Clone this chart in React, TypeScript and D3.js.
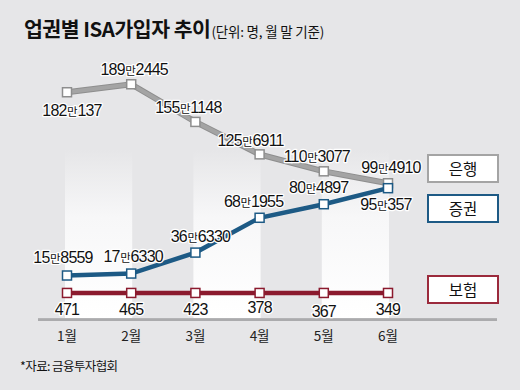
import React from "react";
import * as d3 from "d3";

const months = ["1월", "2월", "3월", "4월", "5월", "6월"];
const bank = [1820137, 1892445, 1551148, 1256911, 1103077, 994910];
const securities = [158559, 176330, 366330, 681955, 804897, 950357];
const insurance = [471, 465, 423, 378, 367, 349];
const legendNames = ["은행", "증권", "보험"];

// label placement offsets (layout, not data)
const bankOff = [[5, 24], [3, -9], [-7, -9], [-9, -8], [-7, -9], [3, -10]];
const secOff = [[-4, -13], [2, -12], [5, -11], [-6, -11], [-5, -11], [-2, 22]];
const insOff = [[0, 22], [0, 22], [0, 22], [0, 20], [0, 24], [0, 22]];

const W = 520, H = 390;
const NUM_FONT = "'Liberation Sans', Arial, 'Noto Sans CJK KR', sans-serif";
const KR_FONT = "'Noto Sans CJK KR', 'Liberation Sans', sans-serif";

function fmt(v: number) {
  if (v < 10000) return [String(v)];
  const man = Math.floor(v / 10000);
  const rest = v % 10000;
  return [String(man), "만", String(rest)];
}

function Label({ x, y, v }: { x: number; y: number; v: number }) {
  const parts = fmt(v);
  return (
    <text
      x={x}
      y={y}
      textAnchor="middle"
      fontFamily={NUM_FONT}
      fontSize={16}
      letterSpacing={-0.8}
      fill="#111"
      stroke="#fff"
      strokeWidth={2.5}
      strokeLinejoin="round"
      style={{ paintOrder: "stroke" }}
    >
      {parts.length === 1 ? (
        parts[0]
      ) : (
        <>
          <tspan>{parts[0]}</tspan>
          <tspan fontFamily={KR_FONT} fontSize={11.5} dx={0.5}>{parts[1]}</tspan>
          <tspan dx={0.5}>{parts[2]}</tspan>
        </>
      )}
    </text>
  );
}

export default function App() {
  const x = d3.scaleLinear().domain([0, 5]).range([67, 388]);
  const y = d3.scaleLinear().domain([0, 2000000]).range([293, 72.4]);
  const line = d3
    .line<number>()
    .x((_, i) => x(i))
    .y((d) => y(d));

  const series = [
    { data: bank, color: "#a4a4a4", edge: "#8e8e8e", off: bankOff },
    { data: securities, color: "#1d5a85", edge: "#1d5a85", off: secOff },
    { data: insurance, color: "#8b1a2e", edge: "#8b1a2e", off: insOff },
  ];

  const legendColors = ["#a4a4a4", "#1d5a85", "#9b2a3c"];
  const legendY = [155, 195, 276];

  const bands = [0, 2, 4];

  return (
    <svg width={W} height={H} style={{ position: "absolute", left: 0, top: 0 }}>
      <defs>
        <linearGradient id="band" x1="0" y1="0" x2="0" y2="1">
          <stop offset="0" stopColor="#e6e6e8" />
          <stop offset="0.4" stopColor="#f7f7f8" />
          <stop offset="1" stopColor="#ffffff" />
        </linearGradient>
      </defs>
      <rect x={0} y={0} width={W} height={H} fill="#e6e6e8" />
      {bands.map((b) => (
        <rect
          key={b}
          x={x(b) - 2}
          y={150}
          width={x(b + 1) - x(b) + 3}
          height={168}
          fill="url(#band)"
        />
      ))}
      {/* baseline */}
      <line x1={38} x2={497} y1={319.5} y2={319.5} stroke="#b4b4b6" strokeWidth={3} />
      <line x1={38} x2={497} y1={320} y2={320} stroke="#a2a2a4" strokeWidth={1} />

      {/* title */}
      <text x={24} y={37} fontFamily={KR_FONT} fontWeight={700} fontSize={20.5} letterSpacing={-0.5} fill="#111">
        업권별 ISA가입자 추이
        <tspan fontSize={13.5} fontWeight={400} letterSpacing={-0.2} dx={1}>(단위: 명, 월 말 기준)</tspan>
      </text>

      {/* lines */}
      {series.map((s, si) => (
        <g key={si}>
          {si === 0 && (
            <path d={line(s.data) || ""} fill="none" stroke={s.edge} strokeWidth={6} />
          )}
          <path d={line(s.data) || ""} fill="none" stroke={s.color} strokeWidth={si === 0 ? 4 : 4.5} />
          {s.data.map((v, i) => (
            <rect
              key={i}
              x={x(i) - 4.5}
              y={y(v) - 4.5}
              width={9}
              height={9}
              fill="#fff"
              stroke={s.edge}
              strokeWidth={1.5}
            />
          ))}
        </g>
      ))}

      {/* labels */}
      {series.map((s, si) =>
        s.data.map((v, i) => (
          <Label key={si + "-" + i} x={x(i) + s.off[i][0]} y={y(v) + s.off[i][1]} v={v} />
        ))
      )}

      {/* month labels */}
      {months.map((m, i) => (
        <text key={m} x={x(i)} y={341} textAnchor="middle" fontFamily={KR_FONT} fontSize={13.5} fill="#222">
          {m}
        </text>
      ))}

      {/* legend */}
      {legendNames.map((n, i) => (
        <g key={n}>
          <rect x={428} y={legendY[i]} width={70} height={27} fill="#fff" stroke={legendColors[i]} strokeWidth={2} />
          <text x={463} y={legendY[i] + 19.5} textAnchor="middle" fontFamily={KR_FONT} fontSize={15.5} fill="#111">
            {n}
          </text>
        </g>
      ))}

      {/* source */}
      <text x={20} y={371} fontFamily={KR_FONT} fontSize={12.5} fill="#111" letterSpacing={-0.6}>
        *자료: 금융투자협회
      </text>
    </svg>
  );
}
